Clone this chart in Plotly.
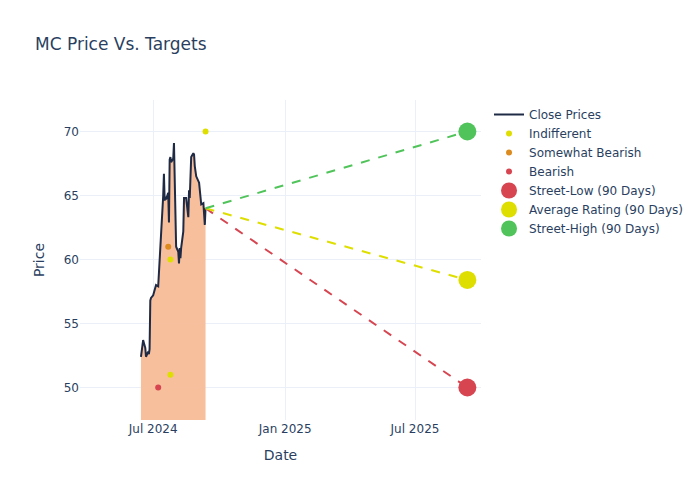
import plotly.graph_objects as go

dates = ["2024-06-14", "2024-06-17", "2024-06-18", "2024-06-20", "2024-06-21",
         "2024-06-24", "2024-06-25", "2024-06-26", "2024-06-27", "2024-06-28",
         "2024-07-01", "2024-07-02", "2024-07-03", "2024-07-05", "2024-07-08",
         "2024-07-09", "2024-07-10", "2024-07-11", "2024-07-12", "2024-07-15",
         "2024-07-16", "2024-07-17", "2024-07-18", "2024-07-19", "2024-07-22",
         "2024-07-23", "2024-07-24", "2024-07-25", "2024-07-26", "2024-07-29",
         "2024-07-30", "2024-07-31", "2024-08-01", "2024-08-02", "2024-08-05",
         "2024-08-06", "2024-08-07", "2024-08-08", "2024-08-09", "2024-08-12",
         "2024-08-13", "2024-08-14", "2024-08-15", "2024-08-16", "2024-08-19",
         "2024-08-20", "2024-08-21", "2024-08-22", "2024-08-23", "2024-08-26",
         "2024-08-27", "2024-08-28", "2024-08-29", "2024-08-30", "2024-09-03",
         "2024-09-04", "2024-09-05", "2024-09-06", "2024-09-09", "2024-09-10",
         "2024-09-11", "2024-09-12"]
close_prices = [52.4, 53.7, 53.5, 53.1, 52.4,
                52.8, 52.6, 53.0, 56.8, 57.0,
                57.2, 57.4, 57.5, 58.0, 57.9,
                58.8, 60.0, 61.5, 62.3, 65.0,
                66.7, 64.6, 64.9, 64.7, 65.2,
                62.9, 67.8, 68.0, 67.6, 67.9,
                69.1, 66.0, 63.2, 61.0, 60.6,
                59.7, 60.9, 60.1, 60.9, 62.2,
                64.8, 64.8, 64.8, 64.8, 63.3,
                65.4, 64.8, 67.8, 68.0, 68.3,
                68.2, 67.3, 66.7, 66.5, 66.0,
                65.2, 65.0, 64.3, 64.4, 63.6,
                62.7, 64.0]

indifferent_dates = ["2024-09-12", "2024-07-25", "2024-07-25"]
indifferent_values = [70, 60, 51]
somewhat_bearish_dates = ["2024-07-22"]
somewhat_bearish_values = [61]
bearish_dates = ["2024-07-08"]
bearish_values = [50]

target_date = "2025-09-12"
street_low = 50
average_rating = 58.4
street_high = 70

GREEN = "#50c45a"
YELLOW = "#dede00"
RED = "#d64550"
ORANGE = "#dc8c1e"

fig = go.Figure()
fig.add_trace(go.Scatter(x=dates, y=close_prices, mode="lines", showlegend=False,
                         line=dict(width=0, color="rgba(0,0,0,0)"),
                         fill="tozeroy", fillcolor="rgba(248,188,152,0.95)",
                         hoverinfo="skip"))
fig.add_trace(go.Scatter(x=dates, y=close_prices, mode="lines", name="Close Prices",
                         line=dict(color="#1f2a44", width=2)))
fig.add_trace(go.Scatter(x=indifferent_dates, y=indifferent_values, mode="markers",
                         name="Indifferent", marker=dict(color=YELLOW, size=6)))
fig.add_trace(go.Scatter(x=somewhat_bearish_dates, y=somewhat_bearish_values, mode="markers",
                         name="Somewhat Bearish", marker=dict(color=ORANGE, size=6)))
fig.add_trace(go.Scatter(x=bearish_dates, y=bearish_values, mode="markers",
                         name="Bearish", marker=dict(color=RED, size=6)))

last_date = dates[-1]
last_price = close_prices[-1]
targets = [(street_low, RED, "Street-Low (90 Days)"),
           (average_rating, YELLOW, "Average Rating (90 Days)"),
           (street_high, GREEN, "Street-High (90 Days)")]
for val, color, name in targets:
    fig.add_trace(go.Scatter(x=[last_date, target_date], y=[last_price, val], mode="lines",
                             line=dict(color=color, dash="dash", width=2), showlegend=False,
                             hoverinfo="skip"))
for val, color, name in targets:
    fig.add_trace(go.Scatter(x=[target_date], y=[val], mode="markers", name=name,
                             marker=dict(color=color, size=18)))

fig.update_layout(
    template="plotly_white",
    width=700, height=500,
    font=dict(family="DejaVu Sans"),
    title=dict(text="MC Price Vs. Targets"),
    xaxis=dict(title="Date", range=["2024-03-21", "2025-10-01"], dtick="M6",
               tick0="2024-07-01", tickformat="%b %Y"),
    yaxis=dict(title="Price", range=[47.46, 72.46]),
)
fig.write_html("out.html", config={"displayModeBar": False},
               post_script="document.body.style.margin='0';document.body.style.overflow='hidden';")
